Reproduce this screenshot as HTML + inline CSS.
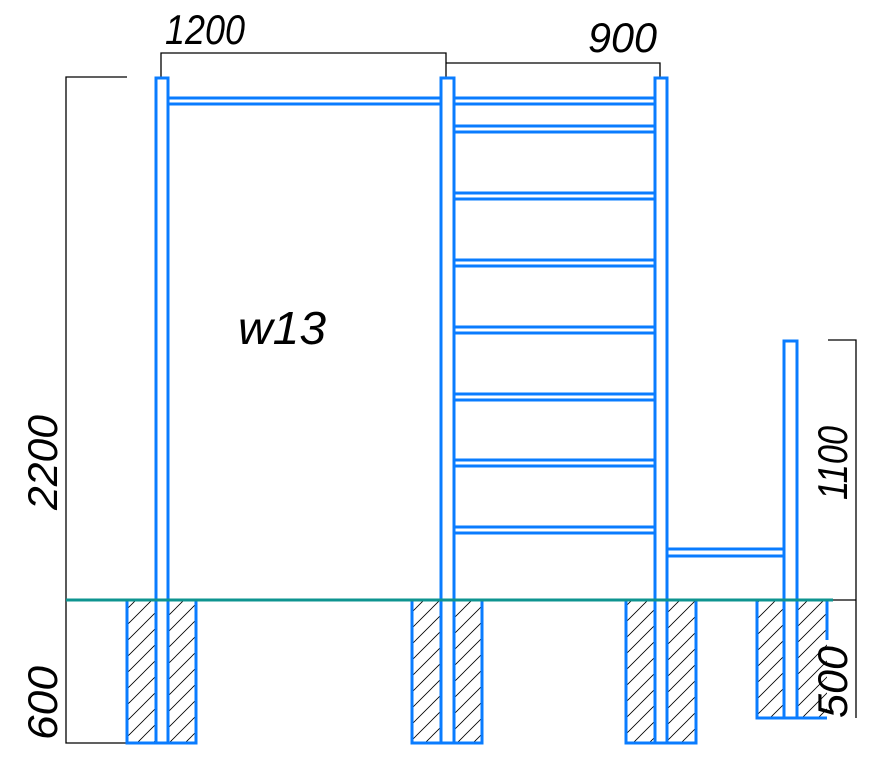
<!DOCTYPE html>
<html><head><meta charset="utf-8"><style>html,body{margin:0;padding:0;background:#fff}svg{display:block}</style></head><body>
<svg width="881" height="759" viewBox="0 0 881 759" xmlns="http://www.w3.org/2000/svg">
<defs>
<pattern id="h" patternUnits="userSpaceOnUse" width="16" height="16">
<path d="M-4,4 L4,-4 M0,16 L16,0 M12,20 L20,12" stroke="#000" stroke-width="0.8"/>
</pattern>
</defs>
<g fill="none" stroke="#000" stroke-width="1.3">
<path d="M127,77 H66 V743 H127"/>
<path d="M161,77 V53 H446 V77"/>
<path d="M446,63 H660 V77"/>
<path d="M828,340 H856 V718"/>
<path d="M833,600 H856"/>
</g>
<g fill="url(#h)">
<rect x="127" y="600" width="69" height="143"/>
<rect x="412" y="600" width="70" height="143"/>
<rect x="626" y="600" width="70" height="143"/>
<rect x="757" y="600" width="70" height="118"/>
</g>
<g fill="#fff">
<rect x="156" y="600" width="12" height="143"/>
<rect x="441" y="600" width="13" height="143"/>
<rect x="655" y="600" width="12" height="143"/>
<rect x="784" y="600" width="13" height="118"/>
</g>
<g fill="none" stroke="#0a7cff" stroke-width="3">
<path d="M127,600 V743 H196 V600"/>
<path d="M412,600 V743 H482 V600"/>
<path d="M626,600 V743 H696 V600"/>
<path d="M757,600 V718 H827"/>
<path d="M827,600 V640"/>
<path d="M156,743 V78 H168 V743"/>
<path d="M441,743 V78 H454 V743"/>
<path d="M655,743 V78 H667 V743"/>
<path d="M784,718 V341 H797 V718"/>
<path d="M168,98 H441 M168,104 H441"/>
<path d="M454,98 H655 M454,104 H655"/>
<path d="M454,126 H655 M454,132 H655"/>
<path d="M454,193 H655 M454,199 H655"/>
<path d="M454,260 H655 M454,266 H655"/>
<path d="M454,327 H655 M454,333 H655"/>
<path d="M454,394 H655 M454,400 H655"/>
<path d="M454,460 H655 M454,466 H655"/>
<path d="M454,527 H655 M454,533 H655"/>
<path d="M667,549 H784 M667,556 H784"/>
</g>
<path d="M66,600 H833" stroke="#0e9490" stroke-width="3"/>
<g font-family="Liberation Sans, sans-serif" font-style="italic" font-size="42" fill="#000">
<text x="165" y="44" textLength="80" lengthAdjust="spacingAndGlyphs">1200</text>
<text x="588" y="52" textLength="69" lengthAdjust="spacingAndGlyphs">900</text>
<text x="238" y="344" font-size="46" textLength="88" lengthAdjust="spacingAndGlyphs">w13</text>
<text transform="translate(57,510) rotate(-90)" textLength="95" lengthAdjust="spacingAndGlyphs">2200</text>
<text transform="translate(57,740) rotate(-90)" textLength="74" lengthAdjust="spacingAndGlyphs">600</text>
<text transform="translate(847,500) rotate(-90)" textLength="74" lengthAdjust="spacingAndGlyphs">1100</text>
<text transform="translate(847,718) rotate(-90)" textLength="72" lengthAdjust="spacingAndGlyphs">500</text>
</g>
</svg>
</body></html>
